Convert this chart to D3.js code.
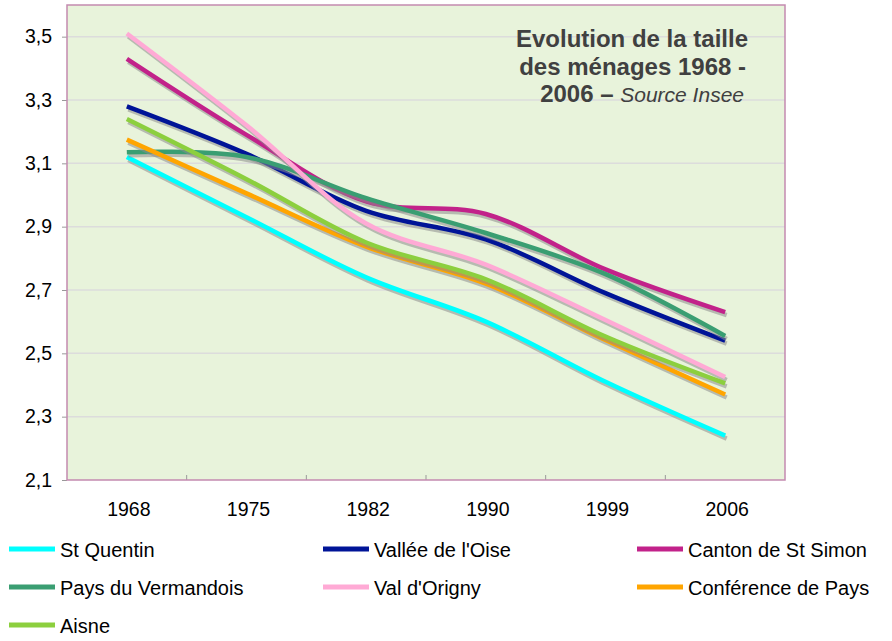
<!DOCTYPE html>
<html>
<head>
<meta charset="utf-8">
<script src="https://cdn.jsdelivr.net/npm/d3@7"></script>
<style>
  body { margin: 0; background: #fff; }
  svg { display: block; font-family: "Liberation Sans", Arial, sans-serif; }
</style>
</head>
<body>
<div id="chart"></div>
<script>
// data
var years = ['1968', '1975', '1982', '1990', '1999', '2006']
var yTicks = [2.1, 2.3, 2.5, 2.7, 2.9, 3.1, 3.3, 3.5]

var stQuentin   = [3.12, 2.93, 2.74, 2.60, 2.41, 2.24]
var valleeOise  = [3.28, 3.13, 2.95, 2.86, 2.69, 2.54]
var cantonSimon = [3.43, 3.19, 2.98, 2.94, 2.765, 2.63]
var vermandois  = [3.135, 3.12, 2.99, 2.88, 2.75, 2.555]
var valOrigny   = [3.51, 3.22, 2.91, 2.78, 2.605, 2.425]
var conference  = [3.175, 3.005, 2.837, 2.72, 2.542, 2.37]
var aisne       = [3.24, 3.05, 2.85, 2.734, 2.553, 2.405]

var seriesNames = ['St Quentin', "Vallée de l'Oise", 'Canton de St Simon',
                   'Pays du Vermandois', "Val d'Origny", 'Conférence de Pays', 'Aisne']
var seriesValues = [stQuentin, valleeOise, cantonSimon, vermandois, valOrigny, conference, aisne]
var seriesColors = ['#00ffff', '#001497', '#c2228a', '#3a9e72', '#ffaad5', '#ffa500', '#8ccf3e']

var W = 892, H = 641
var plot = { left: 67, right: 785, top: 5, bottom: 480 }

var svg = d3.select('#chart').append('svg')
    .attr('width', W)
    .attr('height', H)

var x = d3.scalePoint()
    .domain(years)
    .range([plot.left, plot.right])
    .padding(0.5)

var xBand = d3.scaleBand()
    .domain(years)
    .range([plot.left, plot.right])

var y = d3.scaleLinear()
    .domain([2.1, 3.6])
    .range([plot.bottom, plot.top])

// plot background
svg.append('rect')
    .attr('x', plot.left)
    .attr('y', plot.top)
    .attr('width', plot.right - plot.left)
    .attr('height', plot.bottom - plot.top)
    .attr('fill', '#e8f3db')

// gridlines
svg.append('g').selectAll('line')
    .data(yTicks.slice(1))
    .enter().append('line')
        .attr('x1', plot.left)
        .attr('x2', plot.right)
        .attr('y1', function(d){ return y(d) })
        .attr('y2', function(d){ return y(d) })
        .attr('stroke', '#dcdcdc')
        .attr('stroke-width', 1.5)

// y axis
var yAxis = svg.append('g')
    .attr('transform', 'translate(' + plot.left + ',0)')
    .call(d3.axisLeft(y)
        .tickValues(yTicks)
        .tickSize(5)
        .tickPadding(10)
        .tickFormat(function(d){ return d3.format('.1f')(d).replace('.', ',') }))
yAxis.select('.domain').remove()
yAxis.selectAll('.tick line').attr('stroke', '#999')
yAxis.selectAll('.tick text')
    .attr('font-size', 19.5)
    .attr('fill', '#000')
    .attr('font-family', '"Liberation Sans", Arial, sans-serif')

// x axis tick marks between categories, pointing inward
svg.append('g').selectAll('line')
    .data(years.slice(1))
    .enter().append('line')
        .attr('x1', function(d){ return xBand(d) })
        .attr('x2', function(d){ return xBand(d) })
        .attr('y1', plot.bottom)
        .attr('y2', plot.bottom - 5)
        .attr('stroke', '#999')

svg.append('g').selectAll('text')
    .data(years)
    .enter().append('text')
        .attr('x', function(d){ return x(d) + 2 })
        .attr('y', plot.bottom + 36)
        .attr('text-anchor', 'middle')
        .attr('font-size', 19.5)
        .attr('fill', '#000')
        .text(function(d){ return d })

// lines with drop shadows
var line = d3.line()
    .x(function(d, i){ return x(years[i]) })
    .y(function(d){ return y(d) })
    .curve(d3.curveCatmullRom.alpha(0.5))

var lines = svg.append('g')
seriesValues.forEach(function(vals, i){
    lines.append('path')
        .attr('d', line(vals))
        .attr('transform', 'translate(1.5,3)')
        .attr('fill', 'none')
        .attr('stroke', '#8c8c8c')
        .attr('stroke-opacity', 0.55)
        .attr('stroke-width', 4.5)
    lines.append('path')
        .attr('d', line(vals))
        .attr('fill', 'none')
        .attr('stroke', seriesColors[i])
        .attr('stroke-width', 4.5)
})

// plot border
svg.append('rect')
    .attr('x', plot.left)
    .attr('y', plot.top)
    .attr('width', plot.right - plot.left)
    .attr('height', plot.bottom - plot.top)
    .attr('fill', 'none')
    .attr('stroke', '#c48ab0')
    .attr('stroke-width', 1.5)

// title
var title = svg.append('g')
    .attr('font-size', 24)
    .attr('font-weight', 'bold')
    .attr('fill', '#404040')
    .attr('text-anchor', 'end')
title.append('text').attr('x', 748).attr('y', 47).text('Evolution de la taille')
title.append('text').attr('x', 746).attr('y', 74.5).text('des ménages 1968 -')
var t3 = title.append('text').attr('x', 744).attr('y', 102)
t3.append('tspan').text('2006 – ')
t3.append('tspan')
    .attr('font-weight', 'normal')
    .attr('font-style', 'italic')
    .attr('font-size', 21)
    .text('Source Insee')

// legend
var colX = [9, 323, 637]
var rowY = [549, 587, 625]
var legend = svg.append('g')
seriesNames.forEach(function(name, i){
    var cx = colX[i % 3], cy = rowY[Math.floor(i / 3)]
    legend.append('line')
        .attr('x1', cx)
        .attr('x2', cx + 46)
        .attr('y1', cy)
        .attr('y2', cy)
        .attr('stroke', seriesColors[i])
        .attr('stroke-width', 5)
    legend.append('text')
        .attr('x', cx + 51)
        .attr('y', cy + 8)
        .attr('font-size', 20)
        .attr('fill', '#000')
        .text(name)
})
</script>
</body>
</html>
